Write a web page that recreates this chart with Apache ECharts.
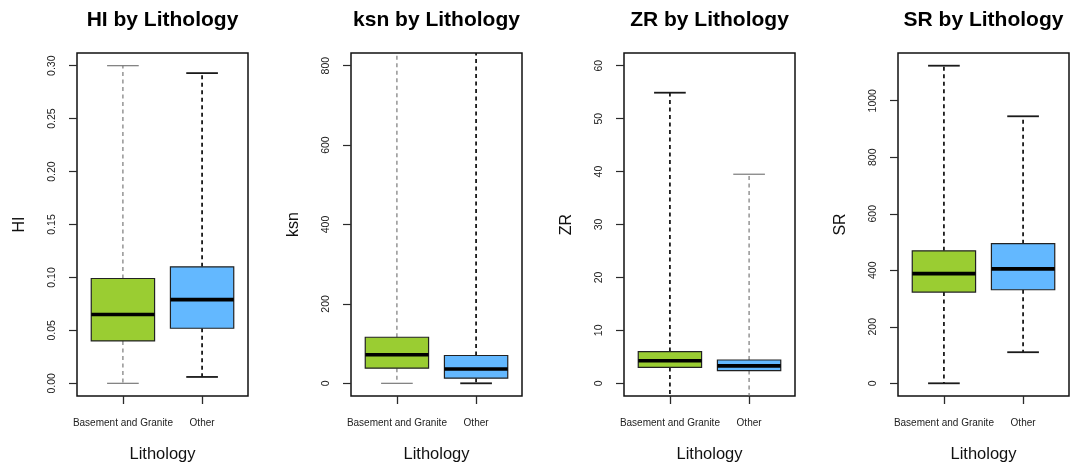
<!DOCTYPE html>
<html>
<head>
<meta charset="utf-8">
<script src="https://cdn.jsdelivr.net/npm/echarts@6/dist/echarts.min.js"></script>
<style>
  html, body { margin: 0; padding: 0; background: #fff; }
  #chart { width: 1071px; height: 468px; }
</style>
</head>
<body>
<div id="chart"></div>
<script>
// Groups on the x axis
const categories = ['Basement and Granite', 'Other'];
const variables = ['HI', 'ksn', 'ZR', 'SR'];

// Box summaries per group: [lower whisker, Q1, median, Q3, upper whisker]
const hiBasement  = [0.000, 0.040, 0.065, 0.099, 0.300];
const hiOther     = [0.006, 0.052, 0.079, 0.110, 0.293];
const ksnBasement = [0, 38, 72, 116, 1150];
const ksnOther    = [0, 13, 36, 70, 1100];
const zrBasement  = [-6, 3.0, 4.25, 6.0, 54.9];
const zrOther     = [-5, 2.4, 3.3, 4.4, 39.5];
const srBasement  = [0, 323, 388, 469, 1124];
const srOther     = [110, 331, 405, 494, 945];

// Value-axis limits and tick labels
const hiRange  = [0, 0.30];
const ksnRange = [0, 800];
const zrRange  = [0, 60];
const srRange  = [0, 1124];
const hiTicks  = [0, 0.05, 0.10, 0.15, 0.20, 0.25, 0.30];
const ksnTicks = [0, 200, 400, 600, 800];
const zrTicks  = [0, 10, 20, 30, 40, 50, 60];
const srTicks  = [0, 200, 400, 600, 800, 1000];

const panelData = [
  { groups: [hiBasement, hiOther],   range: hiRange,  ticks: hiTicks,  decimals: 2 },
  { groups: [ksnBasement, ksnOther], range: ksnRange, ticks: ksnTicks, decimals: 0 },
  { groups: [zrBasement, zrOther],   range: zrRange,  ticks: zrTicks,  decimals: 0 },
  { groups: [srBasement, srOther],   range: srRange,  ticks: srTicks,  decimals: 0 }
];

// Layout and look
const gridLefts = [77, 351, 624, 898];
const gridWidth = 171;
const gridTop = 53;
const gridHeight = 345;
const boxColors = ['#9ACD32', '#63B8FF'];
const strong = { stroke: '#1a1a1a', lineWidth: 1.8 };
const light  = { stroke: '#6e6e6e', lineWidth: 1.1 };
const whiskerLook = [[light, strong], [light, strong], [strong, light], [strong, strong]];
const FONT = '"Liberation Sans", Arial, Helvetica, sans-serif';

function makeRender(look) {
  return function (params, api) {
    const idx = params.dataIndex;
    const x = api.value(0);
    const lo = api.value(1), q1 = api.value(2), med = api.value(3), q3 = api.value(4), hi = api.value(5);
    const boxW = api.size([0.8, 0])[0];
    const capW = boxW / 2;
    const cx = api.coord([x, med])[0];
    const y = v => api.coord([x, v])[1];
    const w = look[idx];
    const dashed = { stroke: w.stroke, lineWidth: w.lineWidth, lineDash: [4, 3.5], fill: null };
    const solid = { stroke: w.stroke, lineWidth: w.lineWidth, fill: null };
    return {
      type: 'group',
      children: [
        { type: 'line', shape: { x1: cx, y1: y(q3), x2: cx, y2: y(hi) }, style: dashed },
        { type: 'line', shape: { x1: cx, y1: y(q1), x2: cx, y2: y(lo) }, style: dashed },
        { type: 'line', shape: { x1: cx - capW / 2, y1: y(hi), x2: cx + capW / 2, y2: y(hi) }, style: solid },
        { type: 'line', shape: { x1: cx - capW / 2, y1: y(lo), x2: cx + capW / 2, y2: y(lo) }, style: solid },
        { type: 'rect', shape: { x: cx - boxW / 2, y: y(q3), width: boxW, height: y(q1) - y(q3) },
          style: { fill: boxColors[idx], stroke: '#222', lineWidth: 1.2 } },
        { type: 'line', shape: { x1: cx - boxW / 2, y1: y(med), x2: cx + boxW / 2, y2: y(med) },
          style: { stroke: '#000', lineWidth: 3.6 } }
      ]
    };
  };
}

const titles = [], grids = [], xAxes = [], yAxes = [], series = [];

panelData.forEach((p, i) => {
  const span = p.range[1] - p.range[0];
  grids.push({
    left: gridLefts[i], top: gridTop, width: gridWidth, height: gridHeight,
    show: true, borderColor: '#111', borderWidth: 1.5, backgroundColor: 'transparent'
  });
  titles.push({
    text: variables[i] + ' by Lithology',
    left: gridLefts[i] + gridWidth / 2, top: 10, textAlign: 'center', padding: 0,
    textStyle: { fontFamily: FONT, fontSize: 21, fontWeight: 'bold', color: '#000' }
  });
  xAxes.push({
    gridIndex: i, type: 'value', position: 'bottom', min: 0.42, max: 2.58,
    name: 'Lithology', nameLocation: 'middle', nameGap: 50,
    nameTextStyle: { fontFamily: FONT, fontSize: 16.5, color: '#111' },
    axisLine: { show: false, onZero: false },
    splitLine: { show: false },
    axisTick: { show: true, inside: false, customValues: [1, 2], length: 8, lineStyle: { color: '#2a2a2a', width: 1.3 } },
    axisLabel: {
      customValues: [1, 2], margin: 22, fontFamily: FONT, fontSize: 10, color: '#222',
      formatter: v => categories[Math.round(v) - 1]
    }
  });
  yAxes.push({
    gridIndex: i, type: 'value', position: 'left',
    min: p.range[0] - 0.04 * span, max: p.range[1] + 0.04 * span,
    name: variables[i], nameLocation: 'middle', nameGap: 49, nameRotate: 90,
    nameTextStyle: { fontFamily: FONT, fontSize: 16, color: '#111' },
    axisLine: { show: false, onZero: false },
    splitLine: { show: false },
    axisTick: { show: true, inside: false, customValues: p.ticks, length: 8, lineStyle: { color: '#2a2a2a', width: 1.2 } },
    axisLabel: {
      customValues: p.ticks, rotate: 90, margin: 19, fontFamily: FONT, fontSize: 10.5, color: '#222',
      formatter: v => v.toFixed(p.decimals)
    }
  });
  series.push({
    type: 'custom', xAxisIndex: i, yAxisIndex: i, clip: true,
    renderItem: makeRender(whiskerLook[i]),
    encode: { x: 0, y: [1, 2, 3, 4, 5] },
    data: p.groups.map((g, k) => [k + 1].concat(g)),
    silent: true
  });
});

const chart = echarts.init(document.getElementById('chart'), null, { renderer: 'canvas' });
chart.setOption({
  animation: false,
  backgroundColor: '#fff',
  title: titles,
  grid: grids,
  xAxis: xAxes,
  yAxis: yAxes,
  series: series
});
</script>
</body>
</html>
